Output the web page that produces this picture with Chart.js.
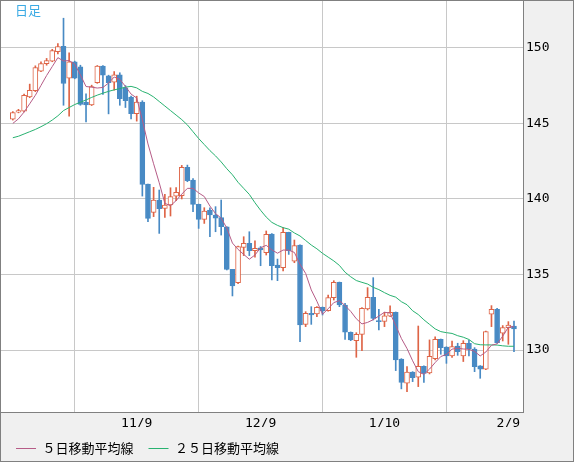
<!DOCTYPE html>
<html><head><meta charset="utf-8">
<script src="https://cdn.jsdelivr.net/npm/chart.js@4.4.1/dist/chart.umd.min.js"></script>
<style>html,body{margin:0;padding:0;background:#f0f0f0;}canvas{display:block}</style>
</head><body>
<canvas id="c" width="574" height="462"></canvas>
<script>
const opens = [145.28,145.75,145.81,146.76,147.16,148.46,148.96,149.12,149.74,150.10,
  148.00,149.07,148.74,146.40,146.23,147.69,148.79,148.15,147.72,148.22,
  147.35,146.74,145.64,146.41,140.98,139.11,139.93,139.38,139.60,140.19,
  140.21,142.09,141.25,139.64,138.65,139.27,138.94,138.76,138.16,135.34,
  134.46,136.79,137.06,136.58,136.77,136.44,137.68,135.63,135.45,137.79,
  135.89,136.95,131.70,132.43,132.39,132.83,132.61,133.47,134.48,132.98,
  131.18,130.62,131.04,132.72,133.49,131.95,131.90,132.25,132.50,129.41,
  127.80,128.55,128.20,128.93,128.49,129.43,130.71,130.20,129.61,130.27,
  129.61,130.45,130.07,128.95,128.73,132.37,132.70,131.11,131.48,131.59];
const highs = [145.78,145.93,146.94,147.60,148.81,149.07,149.30,149.90,150.29,151.96,
  149.67,149.12,148.85,146.96,147.53,148.83,148.83,148.19,148.43,148.35,
  147.50,146.80,146.80,146.50,140.98,140.77,140.59,140.30,140.74,140.76,
  142.22,142.24,141.35,139.66,139.42,139.42,139.49,139.93,138.16,135.34,
  136.88,137.50,137.83,137.23,136.85,137.88,137.70,136.02,138.10,137.80,
  137.28,136.97,132.54,132.87,132.87,132.85,133.64,134.59,134.50,133.09,
  131.20,131.15,132.81,134.13,134.79,132.70,132.50,132.92,132.52,129.43,
  128.90,128.57,131.59,128.95,130.67,130.88,130.73,130.22,130.60,130.45,
  130.62,130.65,130.16,128.97,131.26,132.94,132.76,131.62,131.88,131.92];
const lows = [145.22,145.70,145.76,146.70,147.10,148.42,148.85,149.08,149.60,146.20,
  145.48,147.95,146.20,145.10,146.18,147.65,146.91,145.63,147.20,146.20,
  146.05,145.30,145.15,140.19,138.49,138.83,137.72,138.78,138.87,139.88,
  140.00,141.14,139.16,138.05,138.38,137.50,137.83,137.61,135.30,133.58,
  134.40,136.25,136.25,136.14,135.58,136.29,134.64,134.59,135.23,136.33,
  135.78,130.56,131.55,131.70,132.21,132.32,132.58,133.31,132.87,130.71,
  130.62,129.52,129.96,132.65,131.99,131.33,131.55,132.21,128.64,127.43,
  127.25,127.91,127.58,127.85,128.42,129.35,129.72,129.12,129.52,129.65,
  129.24,129.61,128.57,128.13,128.70,131.55,130.45,130.60,130.38,129.90];
const closes = [145.72,145.84,146.85,147.18,148.70,148.96,149.16,149.82,150.09,147.64,
  149.07,148.00,146.25,146.23,147.44,148.79,148.19,147.70,148.22,146.63,
  146.50,145.64,146.41,140.96,138.71,139.93,139.35,139.60,140.15,140.43,
  142.09,141.21,139.64,138.65,139.20,138.94,138.72,138.16,135.34,134.24,
  136.84,137.06,136.58,136.73,136.62,137.66,135.58,135.45,137.79,136.58,
  136.91,131.66,132.43,132.32,132.83,132.59,133.47,134.48,132.98,131.18,
  130.67,131.04,132.76,133.49,132.10,131.88,132.26,132.50,129.35,127.85,
  128.55,128.18,128.93,128.46,129.59,130.71,130.16,129.61,130.23,129.90,
  130.45,130.07,128.90,128.73,131.22,132.70,130.49,131.48,131.66,131.40];
const ma5 = [145.00,145.30,145.75,146.30,146.86,147.51,148.17,148.76,149.35,149.13,
  149.16,148.92,148.21,147.44,147.40,147.34,147.38,147.67,148.07,147.91,
  147.45,146.94,146.68,145.23,143.64,142.33,141.07,139.71,139.55,139.89,
  140.32,140.70,140.70,140.40,140.16,139.53,139.03,138.73,138.07,137.08,
  136.66,136.33,136.01,136.29,136.77,136.93,136.63,136.41,136.62,136.61,
  136.46,135.68,135.07,133.98,133.23,132.37,132.73,133.14,133.27,132.94,
  132.56,132.07,131.73,131.83,132.01,132.25,132.50,132.45,131.62,130.77,
  130.10,129.29,128.57,128.39,128.74,129.17,129.57,129.71,130.06,130.12,
  130.07,130.05,129.91,129.61,129.87,130.32,130.41,130.92,131.51,131.55];
const ma25 = [144.05,144.15,144.30,144.45,144.60,144.78,144.98,145.22,145.50,145.85,
  146.05,146.25,146.40,146.55,146.72,146.87,147.00,147.12,147.22,147.30,
  147.40,147.45,147.35,147.12,146.98,146.75,146.45,146.15,145.85,145.55,
  145.25,144.90,144.45,144.00,143.60,143.20,142.85,142.45,142.00,141.60,
  141.10,140.70,140.30,139.75,139.25,138.80,138.45,138.25,138.10,138.00,
  137.75,137.55,137.25,136.95,136.70,136.40,136.15,135.90,135.60,135.15,
  134.85,134.60,134.48,134.37,134.15,134.00,133.80,133.62,133.50,133.20,
  133.00,132.60,132.35,132.00,131.70,131.40,131.22,131.15,131.10,130.95,
  130.85,130.70,130.42,130.35,130.34,130.34,130.33,130.28,130.25,130.25];
const xTickIdx = [0, 22, 44, 66, 88];
const xTickLabels = ['', '11/9', '12/9', '1/10', '2/9'];
const yTicks = [130, 135, 140, 145, 150];
const seriesNames = ['５日移動平均線', '２５日移動平均線'];
const periodLabel = '日足';

const UP = 'rgb(222,100,70)', DOWN = 'rgb(72,138,196)';
const MA5C = 'rgb(182,92,135)', MA25C = 'rgb(40,178,112)';
const isUp = i => closes[i] >= opens[i];
const bodies = opens.map((o, i) => ({x: i, y: [o, closes[i]]}));
const wicks = lows.map((l, i) => ({x: i, y: [l, highs[i]]}));

const frame = {
  id: 'frame',
  beforeDraw(chart) {
    const {ctx, chartArea: a} = chart;
    ctx.save();
    ctx.fillStyle = '#f0f0f0';
    ctx.fillRect(0, 0, chart.width, chart.height);
    ctx.fillStyle = '#ffffff';
    ctx.fillRect(a.left, a.top, a.right - a.left, a.bottom - a.top);
    ctx.restore();
  },
  afterDraw(chart) {
    const {ctx, chartArea: a} = chart;
    ctx.save();
    ctx.strokeStyle = '#808080';
    ctx.lineWidth = 1;
    ctx.strokeRect(0.5, 0.5, chart.width - 1, chart.height - 1);
    ctx.strokeRect(a.left - 0.5, a.top - 0.5, a.right - a.left + 1, a.bottom - a.top + 1);
    ctx.fillStyle = 'rgb(58,170,228)';
    ctx.font = '13px "Noto Sans CJK JP"';
    ctx.textBaseline = 'middle';
    ctx.textAlign = 'left';
    ctx.fillText(periodLabel, 15, 10);
    ctx.restore();
  }
};

const noPad = s => { s.paddingTop = 0; s.paddingBottom = 0; s.paddingLeft = 0; s.paddingRight = 0; };

new Chart(document.getElementById('c'), {
  type: 'bar',
  data: {
    datasets: [
      {type: 'line', label: seriesNames[0], data: ma5.map((v, i) => ({x: i, y: v})),
       borderColor: MA5C, backgroundColor: MA5C, borderWidth: 1, pointRadius: 0, tension: 0, order: 0},
      {type: 'line', label: seriesNames[1], data: ma25.map((v, i) => ({x: i, y: v})),
       borderColor: MA25C, backgroundColor: MA25C, borderWidth: 1, pointRadius: 0, tension: 0, order: 1},
      {label: 'body', data: bodies,
       backgroundColor: c => isUp(c.dataIndex) ? '#ffffff' : DOWN,
       borderColor: c => isUp(c.dataIndex) ? UP : DOWN,
       borderWidth: 1, borderSkipped: false, barThickness: 5, grouped: false, order: 2},
      {label: 'wick', data: wicks,
       backgroundColor: c => isUp(c.dataIndex) ? UP : DOWN,
       borderWidth: 0, barThickness: 1, grouped: false, order: 3}
    ]
  },
  options: {
    responsive: false, animation: false, devicePixelRatio: 1,
    layout: {padding: {left: 1, top: 1, right: 0, bottom: -3}},
    plugins: {
      tooltip: {enabled: false},
      legend: {
        position: 'bottom', align: 'start',
        labels: {
          filter: item => item.datasetIndex < 2,
          usePointStyle: true, pointStyle: 'line', pointStyleWidth: 20,
          padding: 15, color: '#000',
          font: {family: '"Noto Sans CJK JP"', size: 13}
        }
      }
    },
    scales: {
      x: {
        type: 'linear', min: -2.1, max: 90.6, offset: false,
        afterBuildTicks: s => { s.ticks = xTickIdx.map(v => ({value: v})); },
        afterFit: s => { s.height = 15; noPad(s); },
        ticks: {callback: (v, i) => xTickLabels[i], maxRotation: 0, autoSkip: false, padding: 4,
                color: '#000', font: {family: '"DejaVu Sans Mono"', size: 13}},
        grid: {color: '#c8c8c8', drawTicks: false},
        border: {display: false}
      },
      y: {
        position: 'right', min: 125.9, max: 153.1,
        afterBuildTicks: s => { s.ticks = yTicks.map(v => ({value: v})); },
        afterFit: s => { s.width = 51; noPad(s); },
        ticks: {padding: 3, color: '#000', font: {family: '"DejaVu Sans Mono"', size: 13}},
        grid: {color: '#c8c8c8', drawTicks: false},
        border: {display: false}
      }
    }
  },
  plugins: [frame]
});
</script>
</body></html>
